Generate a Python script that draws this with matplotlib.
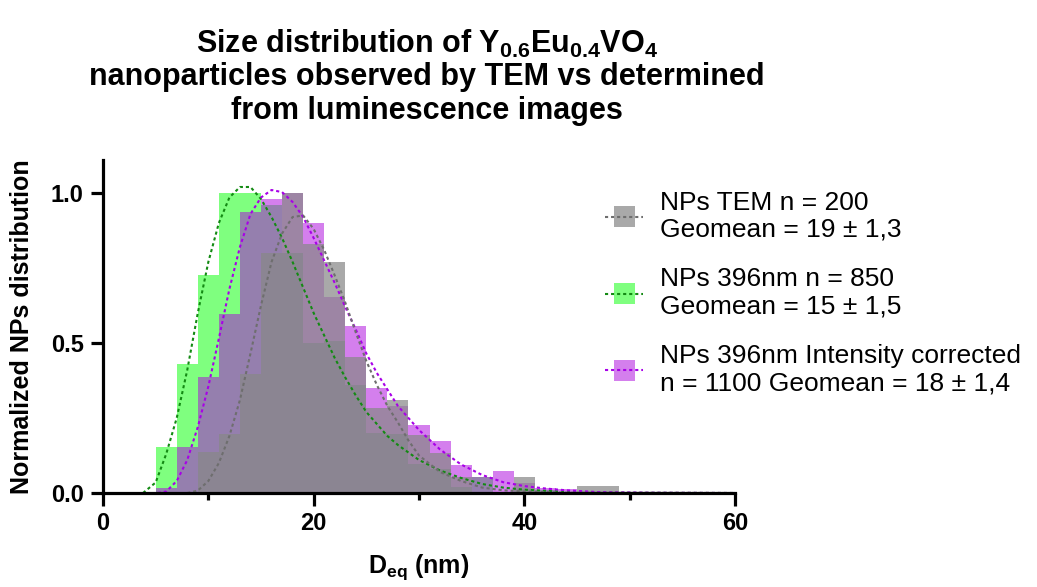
import matplotlib
matplotlib.use('Agg')
import matplotlib.pyplot as plt
from matplotlib.patches import Rectangle
from matplotlib.lines import Line2D
import numpy as np

plt.rcParams['font.family'] = ['Liberation Sans', 'DejaVu Sans']
plt.rcParams['mathtext.fontset'] = 'custom'
plt.rcParams['mathtext.rm'] = 'Liberation Sans:bold'
plt.rcParams['mathtext.bf'] = 'Liberation Sans:bold'
plt.rcParams['mathtext.default'] = 'bf'

# histogram bins (centre, nm), width 2 nm
bins = [6, 8, 10, 12, 14, 16, 18, 20, 22, 24, 26, 28, 30, 32, 34, 36, 38, 40, 42, 44, 46, 48]
green_bars = [0.155, 0.43, 0.727, 1.0, 1.0, 0.96, 0.80, 0.50, 0.507, 0.36, 0.20, 0.198,
              0.098, 0.08, 0.02, 0.052, 0.0, 0.012, 0.01, 0.0, 0.0, 0.0]
purple_bars = [0.017, 0.153, 0.387, 0.597, 0.936, 0.98, 1.0, 0.90, 0.655, 0.557, 0.35, 0.29,
               0.226, 0.172, 0.095, 0.052, 0.075, 0.035, 0.017, 0.014, 0.005, 0.005]
grey_bars = [0.0, 0.0, 0.136, 0.196, 0.396, 0.80, 1.0, 0.83, 0.77, 0.454, 0.284, 0.31,
             0.195, 0.134, 0.052, 0.0, 0.0, 0.052, 0.0, 0.0, 0.022, 0.022]

# fitted curves
green_fit_x = [3.8, 5, 6, 7, 8, 9, 10, 11, 12, 13, 14, 15, 16, 17, 18, 19, 20, 21, 22, 23, 24,
               25, 26, 27, 28, 30, 32, 34, 36, 38, 40, 44, 50, 60]
green_fit_y = [0.0, 0.035, 0.13, 0.25, 0.41, 0.60, 0.77, 0.90, 0.985, 1.02, 1.02, 0.98, 0.92,
               0.85, 0.77, 0.685, 0.60, 0.525, 0.45, 0.385, 0.325, 0.27, 0.23, 0.19, 0.16,
               0.11, 0.075, 0.05, 0.03, 0.018, 0.011, 0.004, 0.001, 0.0]
purple_fit_x = [5.2, 6, 7, 8, 9, 10, 11, 12, 13, 14, 15, 16, 17, 18, 19, 20, 21, 22, 23, 24,
                25, 26, 27, 28, 30, 32, 34, 36, 38, 40, 42, 44, 47, 52, 60]
purple_fit_y = [0.0, 0.005, 0.04, 0.11, 0.22, 0.355, 0.515, 0.68, 0.82, 0.93, 0.985, 1.01,
                1.003, 0.97, 0.92, 0.85, 0.775, 0.70, 0.62, 0.545, 0.465, 0.40, 0.345, 0.29,
                0.21, 0.145, 0.095, 0.06, 0.036, 0.023, 0.015, 0.009, 0.003, 0.001, 0.0]
grey_fit_x = [8, 9, 10, 11, 12, 13, 14, 15, 16, 17, 18, 19, 20, 21, 22, 23, 24, 25, 26, 27,
              28, 29, 30, 32, 34, 36, 38, 40, 44, 60]
grey_fit_y = [0.0, 0.008, 0.04, 0.10, 0.19, 0.31, 0.465, 0.625, 0.77, 0.865, 0.92, 0.925,
              0.88, 0.81, 0.725, 0.635, 0.535, 0.44, 0.36, 0.29, 0.235, 0.175, 0.125, 0.07,
              0.04, 0.018, 0.009, 0.005, 0.001, 0.0]

legend_lines = [
    ("NPs TEM n = 200", "Geomean = 19 \u00b1 1,3"),
    ("NPs 396nm n = 850", "Geomean = 15 \u00b1 1,5"),
    ("NPs 396nm Intensity corrected", "n = 1100 Geomean = 18 \u00b1 1,4"),
]

green_fc = (0.0, 1.0, 0.0, 0.5)
purple_fc = (171/255, 0.0, 221/255, 0.5)
grey_fc = (136/255, 136/255, 136/255, 0.72)
green_lc = '#138a13'
purple_lc = '#a800e8'
grey_lc = '#6e6e6e'

fig = plt.figure(figsize=(10.37, 5.87), dpi=100)
ax = fig.add_axes([103/1037, 1 - 493/587, 632/1037, 333/587])

ax.bar(bins, green_bars, width=2, color=green_fc, linewidth=0)
ax.bar(bins, purple_bars, width=2, color=purple_fc, linewidth=0)
ax.bar(bins, grey_bars, width=2, color=grey_fc, linewidth=0)

dash = (0, (1.5, 1.4))
ax.plot(green_fit_x, green_fit_y, color=green_lc, lw=1.5, ls=dash)
ax.plot(purple_fit_x, purple_fit_y, color=purple_lc, lw=1.5, ls=dash)
ax.plot(grey_fit_x, grey_fit_y, color=grey_lc, lw=1.5, ls=dash)

ax.set_xlim(0, 60)
ax.set_ylim(0, 1.11)
ax.set_xticks([0, 20, 40, 60])
ax.set_xticks([10, 30, 50], minor=True)
ax.set_yticks([0.0, 0.5, 1.0])
ax.set_yticklabels(['0.0', '0.5', '1.0'])
for s in ['top', 'right']:
    ax.spines[s].set_visible(False)
for s in ['left', 'bottom']:
    ax.spines[s].set_linewidth(2.3)
ax.tick_params(which='major', length=9, width=2.3, labelsize=17, pad=5)
ax.tick_params(axis='x', which='minor', length=5, width=2.3)
for lab in ax.get_xticklabels() + ax.get_yticklabels():
    lab.set_fontweight('bold')

ax.set_ylabel('Normalized NPs distribution', fontsize=18, fontweight='bold', labelpad=12)
ax.set_xlabel(r'D$_{eq}$ (nm)', fontsize=18, fontweight='bold', labelpad=12)

title_lines = [r'Size distribution of Y$_{0.6}$Eu$_{0.4}$VO$_4$',
               'nanoparticles observed by TEM vs determined',
               'from luminescence images']
for i, t in enumerate(title_lines):
    fig.text(427/1037, 1 - (44 + i*33.5)/587, t, ha='center', va='center',
             fontsize=22, fontweight='bold')

# legend drawn by hand
entry_tops = [202.5, 279.5, 356]
for (l1, l2), top, fc, lc in zip(legend_lines, entry_tops,
                                  [grey_fc, green_fc, purple_fc],
                                  [grey_lc, green_lc, purple_lc]):
    yc = top + 14
    fig.patches.append(Rectangle((614/1037, 1 - (yc + 10.5)/587), 21/1037, 21/587,
                                 transform=fig.transFigure, facecolor=fc, edgecolor='none'))
    fig.add_artist(Line2D([605/1037, 643/1037], [1 - yc/587, 1 - yc/587],
                          transform=fig.transFigure, color=lc, lw=1.5, ls=dash))
    fig.text(660/1037, 1 - top/587, l1, ha='left', va='center', fontsize=19)
    fig.text(660/1037, 1 - (top + 27)/587, l2, ha='left', va='center', fontsize=19)

fig.savefig('out.png', dpi=100)
